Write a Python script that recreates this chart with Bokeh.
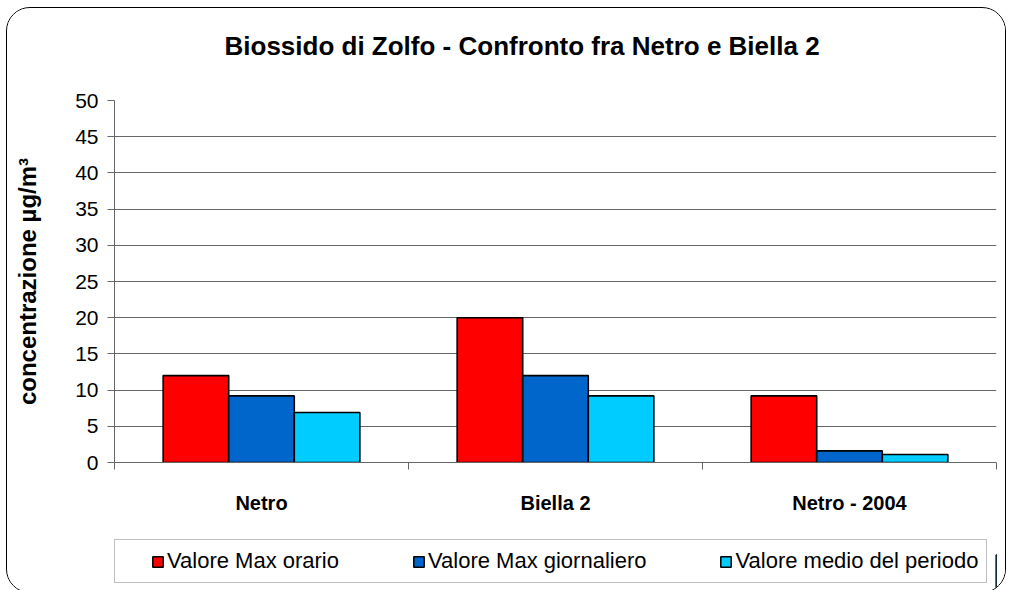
from bokeh.plotting import figure
from bokeh.layouts import column
from bokeh.models import ColumnDataSource, Range1d, FixedTicker, Legend, LegendItem
from bokeh.transform import dodge
from bokeh.embed import file_html
from bokeh.resources import INLINE

categories = ["Netro", "Biella 2", "Netro - 2004"]
max_orario = [12.0, 20.0, 9.2]
max_giornaliero = [9.2, 12.0, 1.6]
medio_periodo = [6.9, 9.2, 1.1]
series_names = ["Valore Max orario", "Valore Max giornaliero", "Valore medio del periodo"]
series_colors = ["#FF0000", "#0066CC", "#00CCFF"]
y_ticks = list(range(0, 55, 5))
title_text = "Biossido di Zolfo - Confronto fra Netro e Biella 2"

FONT = "Liberation Sans"
GRID = "#666666"
W = 998

# ---------- title strip ----------
pt = figure(width=W, height=80, x_range=Range1d(0, 1), y_range=Range1d(0, 1),
            x_axis_location=None, y_axis_location=None, output_backend="svg",
            toolbar_location=None, min_border=0, min_border_top=52)
pt.outline_line_color = None
pt.grid.visible = False
pt.title.text = title_text
pt.title.align = "left"
pt.title.offset = 110
pt.title.standoff = 0
pt.title.text_font = FONT
pt.title.text_font_size = "26px"
pt.title.text_font_style = "bold"
pt.title.text_color = "black"

# ---------- main chart ----------
centers = [i + 0.5 for i in range(len(categories))]
source = ColumnDataSource(dict(x=centers, cat=categories, a=max_orario,
                               b=max_giornaliero, c=medio_periodo))

p = figure(width=W, height=429, x_range=Range1d(0, len(categories)),
           y_range=Range1d(0, 50), output_backend="svg", toolbar_location=None,
           min_border_left=107, min_border_right=9, min_border_top=12,
           min_border_bottom=55)
p.background_fill_color = "white"
p.border_fill_color = "white"
p.outline_line_color = None

bw = 0.223
for col, off, color in zip(["a", "b", "c"], [-bw, 0.0, bw], series_colors):
    p.vbar(x=dodge("x", off, range=p.x_range), top=col, width=bw, source=source,
           fill_color=color, line_color="black", line_width=1.6)

p.yaxis.ticker = FixedTicker(ticks=y_ticks)
p.yaxis.axis_line_color = GRID
p.yaxis.major_tick_line_color = GRID
p.yaxis.major_tick_out = 7
p.yaxis.major_tick_in = 0
p.yaxis.minor_tick_line_color = None
p.yaxis.major_label_standoff = 9
p.yaxis.major_label_text_font = FONT
p.yaxis.major_label_text_font_size = "21px"
p.yaxis.major_label_text_color = "black"
p.yaxis.axis_label = "concentrazione µg/m³"
p.yaxis.axis_label_text_font = FONT
p.yaxis.axis_label_text_font_size = "24px"
p.yaxis.axis_label_text_font_style = "bold"
p.yaxis.axis_label_text_color = "black"
p.yaxis.axis_label_standoff = 31

p.xaxis.ticker = FixedTicker(ticks=centers, minor_ticks=list(range(len(categories) + 1)))
p.xaxis.major_label_overrides = {c: n for c, n in zip(centers, categories)}
p.xaxis.axis_line_color = GRID
p.xaxis.major_tick_line_color = None
p.xaxis.major_tick_out = 0
p.xaxis.major_tick_in = 0
p.xaxis.minor_tick_line_color = GRID
p.xaxis.minor_tick_out = 7
p.xaxis.minor_tick_in = 0
p.xaxis.major_label_standoff = 22
p.xaxis.major_label_text_font = FONT
p.xaxis.major_label_text_font_size = "20px"
p.xaxis.major_label_text_font_style = "bold"
p.xaxis.major_label_text_color = "black"

p.xgrid.grid_line_color = None
p.ygrid.grid_line_color = GRID
p.ygrid.grid_line_width = 1

# ---------- legend strip ----------
pl = figure(width=W, height=75, x_range=Range1d(0, 1), y_range=Range1d(0, 1),
            x_axis_location=None, y_axis_location=None, output_backend="svg",
            toolbar_location=None, min_border=0)
pl.outline_line_color = None
pl.grid.visible = False
swatches = []
for color in series_colors:
    # swatch renderers for the legend only; their single bar lies outside the visible range
    swatches.append(pl.vbar(x=[5], top=[0.5], width=0.1, fill_color=color,
                            line_color="black", line_width=1.5))
legend = Legend(items=[LegendItem(label=n, renderers=[r]) for n, r in zip(series_names, swatches)],
                orientation="horizontal", location=(0, 9),
                title=" ", title_location="left", title_standoff=2,
                title_text_font_size="22px",
                label_text_font=FONT, label_text_font_size="22px", label_text_color="black",
                glyph_width=13, glyph_height=13, label_standoff=3, spacing=73,
                padding=8, margin=0, border_line_color="#808080", border_line_width=1.5,
                background_fill_color="white", background_fill_alpha=1.0)
pl.add_layout(legend, "center")

layout = column(pt, p, pl, spacing=0, width=1000, height=586)
layout.margin = (7, 0, 0, 6)
layout.styles = {"border": "1px solid #000000", "border-radius": "24px",
                 "overflow": "hidden", "background": "white"}

open("out.html", "w").write(file_html(layout, INLINE))
